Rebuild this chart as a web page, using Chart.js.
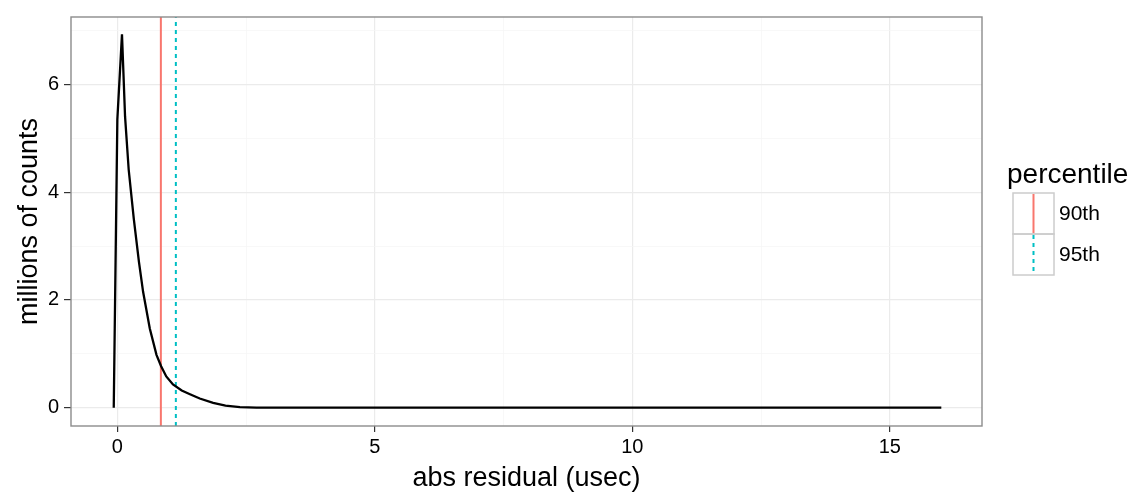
<!DOCTYPE html>
<html>
<head>
<meta charset="utf-8">
<script src="https://cdn.jsdelivr.net/npm/chart.js@4"></script>
<style>
  html, body { margin: 0; background: #fff; }
  #wrap { width: 1143px; height: 499px; }
</style>
</head>
<body>
<div id="wrap"><canvas id="chart"></canvas></div>
<script>
// abs residual (usec) vs millions of counts
const residX = [-0.07, 0.0, 0.09, 0.15, 0.22, 0.32, 0.42, 0.5, 0.63, 0.76, 0.85, 0.95, 1.08, 1.25, 1.41, 1.6, 1.86, 2.1, 2.38, 2.7, 4, 6, 8, 10, 12, 14, 16];
const countsM = [0, 5.35, 6.93, 5.4, 4.42, 3.5, 2.7, 2.15, 1.47, 0.98, 0.77, 0.58, 0.43, 0.32, 0.25, 0.17, 0.09, 0.04, 0.01, 0, 0, 0, 0, 0, 0, 0, 0];

// percentile lines
const pctLabels = ["90th", "95th"];
const pctValues = [0.845, 1.136];

// axes
const xTicks = [0, 5, 10, 15];
const xMinor = [2.5, 7.5, 12.5];
const yTicks = [0, 2, 4, 6];
const yMinor = [1, 3, 5, 7];
const xMin = -0.9, xMax = 16.79;
const yMin = -0.34, yMax = 7.25;

const FONT = "'Liberation Sans', Arial, sans-serif";
const pctColors = ["#F8766D", "#00BFC4"];
const pctDash = [[], [4, 4]];

const curve = residX.map((x, i) => ({ x: x, y: countsM[i] }));

const datasets = [{
  data: curve,
  borderColor: "#000",
  borderWidth: 2.3,
  pointRadius: 0,
  tension: 0
}];
pctValues.forEach((v, i) => {
  datasets.push({
    data: [{ x: v, y: yMin }, { x: v, y: yMax }],
    borderColor: pctColors[i],
    borderWidth: 2,
    borderDash: pctDash[i],
    pointRadius: 0
  });
});

// panel border + legend on the right
const extras = {
  id: "extras",
  afterDraw(chart) {
    const ctx = chart.ctx;
    const a = chart.chartArea;
    ctx.save();
    ctx.strokeStyle = "#8c8c8c";
    ctx.lineWidth = 1.4;
    ctx.strokeRect(a.left, a.top, a.right - a.left, a.bottom - a.top);

    // legend
    const lx = 1013, ly = 193, kw = 41, kh = 41;
    ctx.fillStyle = "#000";
    ctx.font = "28px " + FONT;
    ctx.textBaseline = "alphabetic";
    ctx.textAlign = "left";
    ctx.fillText("percentile", 1007, 183);
    pctLabels.forEach((lab, i) => {
      const y0 = ly + i * kh;
      ctx.strokeStyle = "#cccccc";
      ctx.lineWidth = 1.5;
      ctx.setLineDash([]);
      ctx.strokeRect(lx, y0, kw, kh);
      ctx.strokeStyle = pctColors[i];
      ctx.lineWidth = 2;
      ctx.setLineDash(pctDash[i]);
      ctx.beginPath();
      ctx.moveTo(lx + kw / 2, y0 + 1);
      ctx.lineTo(lx + kw / 2, y0 + kh - 1);
      ctx.stroke();
      ctx.setLineDash([]);
      ctx.fillStyle = "#000";
      ctx.font = "21px " + FONT;
      ctx.textBaseline = "middle";
      ctx.fillText(lab, lx + kw + 5, y0 + kh / 2 + 1);
    });
    ctx.restore();
  }
};

new Chart(document.getElementById("chart"), {
  type: "line",
  data: { datasets: datasets },
  plugins: [extras],
  options: {
    responsive: true,
    maintainAspectRatio: false,
    animation: false,
    layout: { padding: { top: 12, right: 161, left: 0, bottom: 0 } },
    plugins: { legend: { display: false }, tooltip: { enabled: false } },
    scales: {
      x: {
        type: "linear",
        min: xMin,
        max: xMax,
        afterBuildTicks: s => { s.ticks = xTicks.concat(xMinor).sort((p, q) => p - q).map(v => ({ value: v })); },
        afterFit: s => { s.height = 73; },
        border: { display: false },
        grid: {
          color: c => xTicks.includes(c.tick.value) ? "#ebebeb" : "#f5f5f5",
          lineWidth: c => xTicks.includes(c.tick.value) ? 1.2 : 0.7,
          tickColor: c => xTicks.includes(c.tick.value) ? "#333" : "rgba(0,0,0,0)",
          tickLength: 6
        },
        ticks: {
          autoSkip: false,
          maxRotation: 0,
          padding: 3,
          color: "#000",
          font: { family: FONT, size: 20 },
          callback: v => xTicks.includes(v) ? String(v) : ""
        },
        title: {
          display: true,
          text: "abs residual (usec)",
          color: "#000",
          font: { family: FONT, size: 27 },
          padding: { top: 0, bottom: 4 }
        }
      },
      y: {
        type: "linear",
        min: yMin,
        max: yMax,
        afterBuildTicks: s => { s.ticks = yTicks.concat(yMinor).sort((p, q) => p - q).map(v => ({ value: v })); },
        afterFit: s => { s.width = 71; },
        border: { display: false },
        grid: {
          color: c => yTicks.includes(c.tick.value) ? "#ebebeb" : "#f5f5f5",
          lineWidth: c => yTicks.includes(c.tick.value) ? 1.2 : 0.7,
          tickColor: c => yTicks.includes(c.tick.value) ? "#333" : "rgba(0,0,0,0)",
          tickLength: 7
        },
        ticks: {
          autoSkip: false,
          padding: 5,
          color: "#000",
          font: { family: FONT, size: 20 },
          callback: v => yTicks.includes(v) ? String(v) : ""
        },
        title: {
          display: true,
          text: "millions of counts",
          color: "#000",
          font: { family: FONT, size: 27 },
          padding: { top: 13, bottom: 0 }
        }
      }
    }
  }
});
</script>
</body>
</html>
